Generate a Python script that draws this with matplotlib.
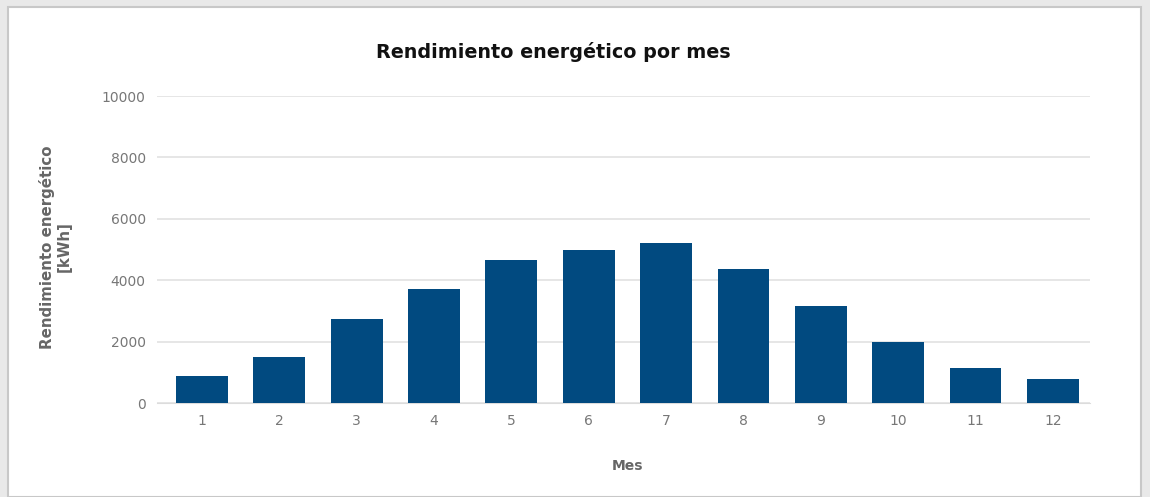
import matplotlib.pyplot as plt
from matplotlib.patches import Rectangle

meses = [1, 2, 3, 4, 5, 6, 7, 8, 9, 10, 11, 12]
rendimiento = [890, 1490, 2740, 3700, 4660, 4980, 5220, 4350, 3170, 1980, 1130, 780]
yticks = [0, 2000, 4000, 6000, 8000, 10000]

fig = plt.figure(figsize=(11.5, 4.97), dpi=100)
fig.patch.set_facecolor('#e9e9e9')
# white panel with thin border
fig.patches.append(Rectangle((8 / 1150, 0), 1133 / 1150, 1 - 7 / 497,
                             transform=fig.transFigure, facecolor='white',
                             edgecolor='#c8c8c8', linewidth=1.5, zorder=-1))

ax = fig.add_axes([0.1363, 0.1891, 0.8116, 0.6177])
ax.set_zorder(1)
ax.set_facecolor('none')
ax.bar(meses, rendimiento, width=0.67, color='#014a80', zorder=3)

ax.set_xlim(0.417, 12.48)
ax.set_ylim(0, 10000)
ax.set_xticks(meses)
ax.set_yticks(yticks)
ax.grid(axis='y', color='#e2e2e2', linewidth=1.2, zorder=0)
for s in ['top', 'right', 'left']:
    ax.spines[s].set_visible(False)
ax.spines['bottom'].set_color('#dcdcdc')
ax.tick_params(axis='y', length=0, pad=8, labelsize=10, colors='#777777')
ax.tick_params(axis='x', length=0, pad=8, labelsize=10, colors='#777777')

fig.text(0.481, 0.895, 'Rendimiento energético por mes', ha='center', va='center',
         fontsize=13.8, fontweight='bold', color='#111111')
fig.text(0.546, 0.062, 'Mes', ha='center', va='center',
         fontsize=10, fontweight='bold', color='#666666')
fig.text(0.048, 0.503, 'Rendimiento energético\n[kWh]', ha='center', va='center',
         rotation=90, fontsize=10.8, fontweight='bold', color='#666666',
         linespacing=1.1)

plt.savefig('out.png', dpi=100, facecolor=fig.get_facecolor())
